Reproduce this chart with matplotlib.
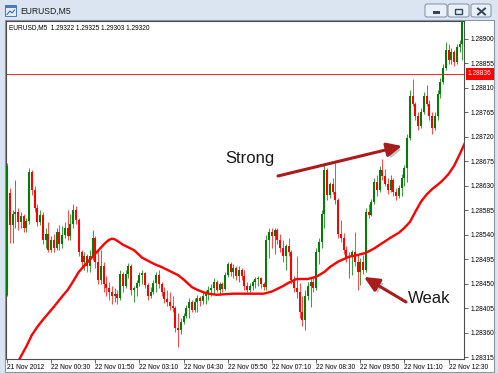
import matplotlib
matplotlib.use("Agg")
import matplotlib.pyplot as plt
import matplotlib.patheffects as pe
from matplotlib.patches import Rectangle, FancyBboxPatch
from matplotlib.lines import Line2D
import numpy as np

plt.rcParams['font.family'] = ['Liberation Sans', 'DejaVu Sans']

# ---------------- data ----------------
symbol = "EURUSD,M5"
header_values = ["1.29322", "1.29325", "1.29303", "1.29320"]

opens = [1.28430, 1.28617, 1.28558, 1.28579, 1.28582, 1.28564, 1.28575, 1.28553, 1.28566, 1.28656,
         1.28623, 1.28590, 1.28564, 1.28577, 1.28531, 1.28542, 1.28512, 1.28531, 1.28516, 1.28545,
         1.28523, 1.28540, 1.28553, 1.28538, 1.28560, 1.28586, 1.28568, 1.28509, 1.28490, 1.28501,
         1.28483, 1.28501, 1.28534, 1.28490, 1.28457, 1.28483, 1.28450, 1.28443, 1.28435, 1.28428,
         1.28432, 1.28424, 1.28468, 1.28446, 1.28468, 1.28483, 1.28439, 1.28443, 1.28452, 1.28466,
         1.28470, 1.28448, 1.28428, 1.28435, 1.28452, 1.28466, 1.28450, 1.28435, 1.28422, 1.28417,
         1.28410, 1.28406, 1.28369, 1.28365, 1.28380, 1.28391, 1.28406, 1.28417, 1.28402, 1.28417,
         1.28424, 1.28419, 1.28428, 1.28432, 1.28439, 1.28443, 1.28454, 1.28439, 1.28450, 1.28441,
         1.28466, 1.28487, 1.28472, 1.28479, 1.28465, 1.28476, 1.28465, 1.28446, 1.28439, 1.28446,
         1.28454, 1.28459, 1.28461, 1.28450, 1.28444, 1.28531, 1.28545, 1.28538, 1.28549, 1.28531,
         1.28516, 1.28501, 1.28520, 1.28509, 1.28457, 1.28443, 1.28435, 1.28399, 1.28384, 1.28428,
         1.28446, 1.28454, 1.28443, 1.28509, 1.28527, 1.28579, 1.28659, 1.28613, 1.28634, 1.28619,
         1.28604, 1.28542, 1.28534, 1.28512, 1.28498, 1.28501, 1.28509, 1.28490, 1.28472, 1.28490,
         1.28476, 1.28582, 1.28577, 1.28601, 1.28637, 1.28623, 1.28659, 1.28648, 1.28634, 1.28623,
         1.28641, 1.28619, 1.28612, 1.28626, 1.28645, 1.28663, 1.28718, 1.28795, 1.28781, 1.28758,
         1.28740, 1.28766, 1.28795, 1.28781, 1.28758, 1.28736, 1.28758, 1.28799, 1.28821, 1.28847,
         1.28880, 1.28861, 1.28876, 1.28858, 1.28885, 1.28891]

highs = [1.28672, 1.28626, 1.28586, 1.28641, 1.28590, 1.28582, 1.28579, 1.28571, 1.28663, 1.28659,
         1.28630, 1.28597, 1.28586, 1.28582, 1.28553, 1.28564, 1.28538, 1.28542, 1.28553, 1.28558,
         1.28556, 1.28564, 1.28586, 1.28579, 1.28597, 1.28593, 1.28571, 1.28512, 1.28509, 1.28505,
         1.28512, 1.28549, 1.28538, 1.28512, 1.28512, 1.28490, 1.28465, 1.28454, 1.28446, 1.28443,
         1.28439, 1.28476, 1.28472, 1.28476, 1.28489, 1.28487, 1.28446, 1.28457, 1.28472, 1.28476,
         1.28472, 1.28452, 1.28444, 1.28457, 1.28472, 1.28476, 1.28454, 1.28444, 1.28439, 1.28435,
         1.28428, 1.28410, 1.28397, 1.28387, 1.28397, 1.28411, 1.28424, 1.28421, 1.28424, 1.28430,
         1.28428, 1.28435, 1.28439, 1.28446, 1.28450, 1.28461, 1.28457, 1.28454, 1.28454, 1.28472,
         1.28490, 1.28490, 1.28487, 1.28483, 1.28483, 1.28479, 1.28476, 1.28454, 1.28452, 1.28457,
         1.28463, 1.28465, 1.28463, 1.28454, 1.28540, 1.28553, 1.28553, 1.28553, 1.28553, 1.28542,
         1.28531, 1.28523, 1.28534, 1.28512, 1.28465, 1.28501, 1.28452, 1.28428, 1.28439, 1.28454,
         1.28461, 1.28465, 1.28516, 1.28534, 1.28586, 1.28669, 1.28663, 1.28637, 1.28645, 1.28672,
         1.28608, 1.28568, 1.28544, 1.28520, 1.28509, 1.28512, 1.28545, 1.28503, 1.28498, 1.28503,
         1.28590, 1.28597, 1.28606, 1.28645, 1.28650, 1.28667, 1.28680, 1.28661, 1.28645, 1.28650,
         1.28645, 1.28626, 1.28632, 1.28652, 1.28669, 1.28725, 1.28806, 1.28826, 1.28784, 1.28766,
         1.28773, 1.28803, 1.28815, 1.28788, 1.28766, 1.28766, 1.28806, 1.28828, 1.28854, 1.28894,
         1.28891, 1.28883, 1.28880, 1.28891, 1.28898, 1.29325]

lows = [1.28428, 1.28525, 1.28525, 1.28553, 1.28549, 1.28553, 1.28545, 1.28545, 1.28560, 1.28613,
        1.28582, 1.28556, 1.28558, 1.28523, 1.28516, 1.28509, 1.28509, 1.28509, 1.28512, 1.28512,
        1.28516, 1.28534, 1.28531, 1.28531, 1.28553, 1.28560, 1.28501, 1.28483, 1.28476, 1.28472,
        1.28472, 1.28494, 1.28479, 1.28450, 1.28450, 1.28435, 1.28428, 1.28421, 1.28413, 1.28417,
        1.28413, 1.28421, 1.28435, 1.28443, 1.28461, 1.28430, 1.28417, 1.28428, 1.28446, 1.28450,
        1.28443, 1.28421, 1.28424, 1.28432, 1.28435, 1.28443, 1.28428, 1.28415, 1.28410, 1.28402,
        1.28399, 1.28362, 1.28334, 1.28358, 1.28376, 1.28387, 1.28387, 1.28399, 1.28399, 1.28399,
        1.28410, 1.28413, 1.28413, 1.28421, 1.28428, 1.28432, 1.28435, 1.28430, 1.28435, 1.28439,
        1.28463, 1.28465, 1.28461, 1.28457, 1.28454, 1.28457, 1.28439, 1.28435, 1.28435, 1.28439,
        1.28443, 1.28446, 1.28443, 1.28439, 1.28439, 1.28498, 1.28516, 1.28505, 1.28523, 1.28509,
        1.28490, 1.28476, 1.28501, 1.28450, 1.28435, 1.28424, 1.28387, 1.28373, 1.28365, 1.28421,
        1.28408, 1.28435, 1.28439, 1.28487, 1.28516, 1.28553, 1.28604, 1.28608, 1.28615, 1.28597,
        1.28534, 1.28527, 1.28505, 1.28490, 1.28461, 1.28466, 1.28483, 1.28439, 1.28448, 1.28468,
        1.28472, 1.28571, 1.28575, 1.28597, 1.28612, 1.28619, 1.28641, 1.28630, 1.28615, 1.28619,
        1.28612, 1.28604, 1.28608, 1.28612, 1.28630, 1.28637, 1.28714, 1.28777, 1.28751, 1.28733,
        1.28736, 1.28762, 1.28777, 1.28751, 1.28725, 1.28733, 1.28751, 1.28792, 1.28817, 1.28843,
        1.28854, 1.28854, 1.28850, 1.28854, 1.28876, 1.28861]

closes = [1.28667, 1.28558, 1.28579, 1.28582, 1.28564, 1.28575, 1.28553, 1.28566, 1.28656, 1.28623,
          1.28590, 1.28564, 1.28577, 1.28531, 1.28542, 1.28512, 1.28531, 1.28516, 1.28545, 1.28523,
          1.28540, 1.28553, 1.28538, 1.28560, 1.28586, 1.28568, 1.28509, 1.28490, 1.28501, 1.28483,
          1.28501, 1.28534, 1.28490, 1.28457, 1.28483, 1.28450, 1.28443, 1.28435, 1.28428, 1.28432,
          1.28424, 1.28468, 1.28446, 1.28468, 1.28483, 1.28439, 1.28443, 1.28452, 1.28466, 1.28470,
          1.28448, 1.28428, 1.28435, 1.28452, 1.28466, 1.28450, 1.28435, 1.28422, 1.28417, 1.28410,
          1.28406, 1.28369, 1.28365, 1.28380, 1.28391, 1.28406, 1.28417, 1.28402, 1.28417, 1.28424,
          1.28419, 1.28428, 1.28432, 1.28439, 1.28443, 1.28454, 1.28439, 1.28450, 1.28441, 1.28466,
          1.28487, 1.28472, 1.28479, 1.28465, 1.28476, 1.28465, 1.28446, 1.28439, 1.28446, 1.28454,
          1.28459, 1.28461, 1.28450, 1.28444, 1.28531, 1.28545, 1.28538, 1.28549, 1.28531, 1.28516,
          1.28501, 1.28520, 1.28509, 1.28457, 1.28443, 1.28435, 1.28399, 1.28384, 1.28428, 1.28446,
          1.28454, 1.28443, 1.28509, 1.28527, 1.28579, 1.28659, 1.28613, 1.28634, 1.28619, 1.28604,
          1.28542, 1.28534, 1.28512, 1.28498, 1.28501, 1.28509, 1.28490, 1.28472, 1.28490, 1.28476,
          1.28582, 1.28577, 1.28601, 1.28637, 1.28623, 1.28659, 1.28648, 1.28634, 1.28623, 1.28641,
          1.28619, 1.28612, 1.28626, 1.28645, 1.28663, 1.28718, 1.28795, 1.28781, 1.28758, 1.28740,
          1.28766, 1.28795, 1.28781, 1.28758, 1.28736, 1.28758, 1.28799, 1.28821, 1.28847, 1.28880,
          1.28861, 1.28876, 1.28858, 1.28885, 1.28891, 1.29320]

ma_index = [4, 7, 9, 11, 13, 15, 17, 20, 22, 24, 26, 29, 31, 33, 35, 36, 37, 38, 39, 40,
            42, 44, 46, 49, 52, 54, 56, 58, 60, 62, 64, 67, 69, 71, 73, 76, 79, 82, 85, 88,
            91, 93, 96, 98, 100, 102, 105, 109, 112, 115, 117, 120, 124, 127, 130, 133, 136, 139, 142, 144,
            146, 148, 150, 152, 154, 156, 158, 160, 162, 164, 166]
ma_values = [1.28307, 1.28335, 1.28356, 1.28371, 1.28384, 1.28396, 1.28408, 1.28427, 1.28439, 1.28455,
             1.28472, 1.28489, 1.28500, 1.28511, 1.28522, 1.28527, 1.28531, 1.28533, 1.28532, 1.28529,
             1.28522, 1.28517, 1.28512, 1.28498, 1.28490, 1.28485, 1.28481, 1.28476, 1.28471, 1.28466,
             1.28458, 1.28444, 1.28439, 1.28435, 1.28432, 1.28430, 1.28431, 1.28432, 1.28432, 1.28432,
             1.28432, 1.28432, 1.28436, 1.28441, 1.28446, 1.28452, 1.28459, 1.28459, 1.28463, 1.28472,
             1.28481, 1.28491, 1.28500, 1.28503, 1.28507, 1.28515, 1.28525, 1.28535, 1.28544, 1.28553,
             1.28564, 1.28583, 1.28601, 1.28614, 1.28624, 1.28632, 1.28641, 1.28652, 1.28667, 1.28688,
             1.28710]

level_price = 1.28836

price_ticks = [1.28900, 1.28855, 1.28810, 1.28765, 1.28720, 1.28675, 1.28630,
               1.28585, 1.28540, 1.28495, 1.28450, 1.28405, 1.28360, 1.28315]
time_tick_index = [0, 16, 32, 48, 64, 80, 96, 112, 128, 144, 160]
time_tick_labels = ["21 Nov 2012", "22 Nov 00:30", "22 Nov 01:50", "22 Nov 03:10",
                    "22 Nov 04:30", "22 Nov 05:50", "22 Nov 07:10", "22 Nov 08:30",
                    "22 Nov 09:50", "22 Nov 11:10", "22 Nov 12:30"]

annotations = ["Strong", "Weak"]

# ---------------- figure ----------------
W, H = 498, 373
fig = plt.figure(figsize=(W / 100, H / 100), dpi=100)
fig.patch.set_facecolor('#dbe5f1')


def frect(x0, y0, x1, y1):
    return [x0 / W, 1 - y1 / H, (x1 - x0) / W, (y1 - y0) / H]


# window white client area (behind the axes)
fig.add_artist(Rectangle((5 / W, 1 - 372 / H), (494 - 5) / W, (372 - 20) / H,
                         transform=fig.transFigure, fc='white', ec='#8a96a6', lw=0.8,
                         zorder=-10))

# title bar: icon, caption, buttons
fig.add_artist(Rectangle((5 / W, 1 - 16 / H), 11 / W, 11 / H, transform=fig.transFigure,
                         fc='#e3edf9', ec='#4b79b8', lw=0.7))
fig.add_artist(Rectangle((5 / W, 1 - 8 / H), 11 / W, 3 / H, transform=fig.transFigure,
                         fc='#4b79b8', ec='none'))
fig.add_artist(Line2D([7 / W, 10 / W, 12 / W, 14.5 / W],
                      [1 - 14.5 / H, 1 - 11 / H, 1 - 13 / H, 1 - 10 / H],
                      transform=fig.transFigure, color='#2f5e9e', lw=0.7))
fig.text(20 / W, 1 - 11 / H, symbol, fontsize=6.2, va='center', ha='left', color='#1b1b1b')

buttons = [(425, 447), (448, 469), (471, 491)]
for (x0, x1) in buttons:
    fig.add_artist(FancyBboxPatch((x0 / W, 1 - 17 / H), (x1 - x0) / W, 13 / H,
                                  boxstyle='round,pad=0,rounding_size=0.005',
                                  transform=fig.transFigure, fc='#eaf0f7', ec='#7f8ea3', lw=0.7))
gcol = '#34455c'
fig.add_artist(Rectangle((433 / W, 1 - 13.5 / H), 7 / W, 2 / H, transform=fig.transFigure,
                         fc=gcol, ec='none'))
fig.add_artist(Rectangle((455 / W, 1 - 14 / H), 7 / W, 5 / H, transform=fig.transFigure,
                         fc='none', ec=gcol, lw=1.0))
fig.add_artist(Line2D([478 / W, 485 / W], [1 - 8.5 / H, 1 - 14.5 / H],
                      transform=fig.transFigure, color=gcol, lw=1.4))
fig.add_artist(Line2D([478 / W, 485 / W], [1 - 14.5 / H, 1 - 8.5 / H],
                      transform=fig.transFigure, color=gcol, lw=1.4))

# chart axes
ax = fig.add_axes(frect(6, 21, 464, 359))
ax.set_zorder(1)
ax.set_facecolor('white')
ax.set_xlim(-0.36, 165.58)
ax.set_ylim(1.28312, 1.28933)

o = np.array(opens)
h = np.array(highs)
l = np.array(lows)
c = np.array(closes)
idx = np.arange(len(c))
up = c >= o

ax.axhline(level_price, color='#ff0000', lw=0.6, zorder=1)

wick_cols = np.where(up, '#3f9f3f', '#ff4a4a')
body_cols = np.where(up, '#008000', '#ff0000')
ax.vlines(idx, l, h, colors=wick_cols, lw=0.75, zorder=2)
body_bottom = np.minimum(o, c)
body_height = np.maximum(np.abs(c - o), 0.000012)
ax.bar(idx, body_height, bottom=body_bottom, width=0.72, color=body_cols, lw=0, zorder=3)

ax.plot(ma_index, ma_values, color='#ff0000', lw=1.7, solid_joinstyle='round',
        solid_capstyle='round', zorder=4)

for s in ax.spines.values():
    s.set_color('#4d4d4d')
    s.set_linewidth(0.8)

ax.yaxis.tick_right()
ax.set_yticks(price_ticks)
ax.set_yticklabels([f"{p:.5f}" for p in price_ticks])
ax.tick_params(axis='y', direction='out', length=3, width=0.6, pad=1.5,
               labelsize=4.8, color='#4d4d4d', labelcolor='#000000')
ax.set_xticks(time_tick_index)
ax.set_xticklabels(time_tick_labels)
ax.tick_params(axis='x', direction='out', length=3, width=0.6, pad=0.4,
               labelsize=4.8, color='#4d4d4d', labelcolor='#000000')
for t in ax.get_xticklabels():
    t.set_ha('left')

# current level label
ax.text(1.0 + 4 / 458, level_price, f"{level_price:.5f}", transform=ax.get_yaxis_transform(),
        fontsize=4.8, color='white', va='center', ha='left', clip_on=False, zorder=10,
        bbox=dict(boxstyle='square,pad=0.35', fc='#ff0000', ec='none'))

# header line
ax.text(3 / 458, 1 - 6.5 / 338, symbol + "  " + " ".join(header_values), transform=ax.transAxes,
        fontsize=4.7, va='center', ha='left', color='#000000', zorder=10)

# annotations
arrow_col = '#a81c1c'
shadow = [pe.SimplePatchShadow(offset=(2, -2), shadow_rgbFace='#555555', alpha=0.35), pe.Normal()]
arrow_props = dict(arrowstyle='-|>,head_length=0.9,head_width=0.42', color=arrow_col,
                   lw=2.2, mutation_scale=10, shrinkA=0, shrinkB=0, path_effects=shadow)
ax.annotate('', xy=(402, H - 146), xytext=(278, H - 176), xycoords='figure pixels',
            textcoords='figure pixels', arrowprops=arrow_props, annotation_clip=False, zorder=8)
ax.annotate('', xy=(364, H - 277), xytext=(406, H - 302), xycoords='figure pixels',
            textcoords='figure pixels', arrowprops=arrow_props, annotation_clip=False, zorder=8)

ax.annotate(annotations[0], xy=(225, H - 163), xycoords='figure pixels', fontsize=12,
            va='baseline', ha='left', color='#1a1a1a', zorder=9)
ax.annotate(annotations[1], xy=(408, H - 303), xycoords='figure pixels', fontsize=12,
            va='baseline', ha='left', color='#1a1a1a', zorder=9)

fig.savefig('out.png', dpi=100, facecolor=fig.get_facecolor())
